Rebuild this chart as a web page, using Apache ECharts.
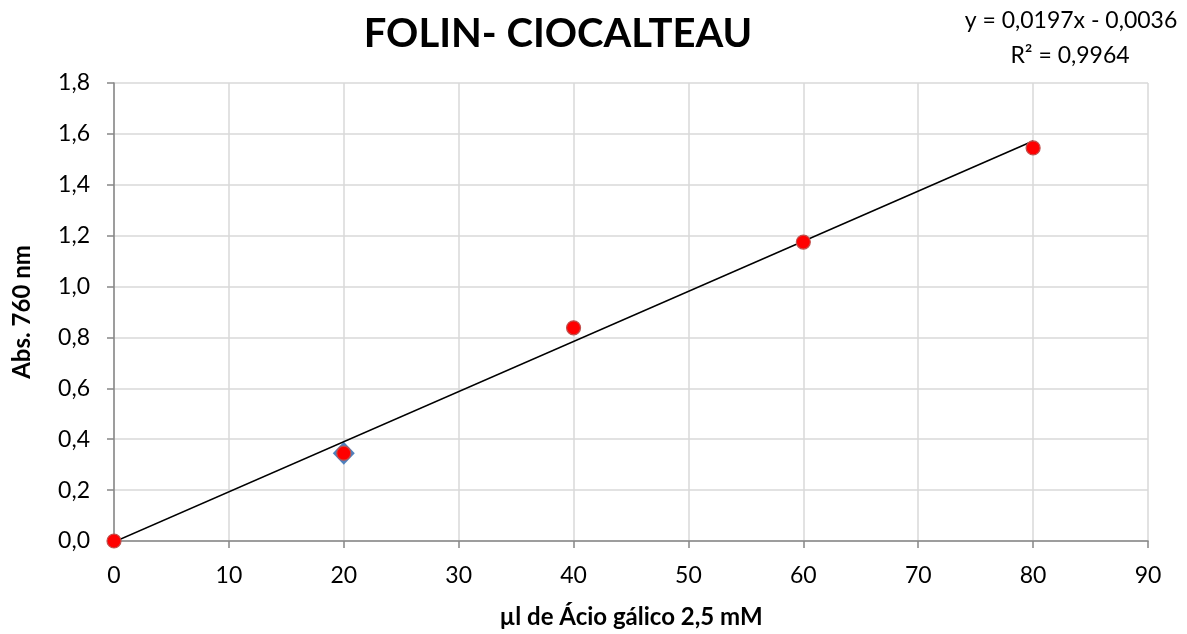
<!DOCTYPE html>
<html>
<head>
<meta charset="utf-8">
<script src="https://cdn.jsdelivr.net/npm/echarts@6/dist/echarts.min.js"></script>
<style>
  html, body { margin: 0; padding: 0; background: #fff; }
  #chart { width: 1187px; height: 634px; }
</style>
</head>
<body>
<div id="chart"></div>
<script>
// Gallic acid volume (µl) and measured absorbance at 760 nm
const volumes = [0, 20, 40, 60, 80];
const absorbance = [0, 0.345, 0.838, 1.175, 1.545];
// Point of the first series visible beneath the red marker
const diamondVolumes = [20];
const diamondAbs = [0.345];
// Linear fit reported on the chart
const slope = 0.0197;
const intercept = -0.0036;
const rSquared = 0.9964;
const fitRange = [0, 80];

const fmt = (v, d) => v.toFixed(d).replace('.', ',');
const fitLabel = 'y = ' + fmt(slope, 4) + 'x ' + (intercept < 0 ? '- ' : '+ ') + fmt(Math.abs(intercept), 4);
const r2Label = 'R² = ' + fmt(rSquared, 4);

const FONT = 'Lato, "Open Sans", sans-serif';
const chart = echarts.init(document.getElementById('chart'), null, { renderer: 'canvas' });

chart.setOption({
  backgroundColor: '#ffffff',
  animation: false,
  title: [
    {
      text: 'FOLIN- CIOCALTEAU',
      left: 553, top: 9, textAlign: 'center',
      textStyle: { fontFamily: FONT, fontWeight: 'bold', fontSize: 40, color: '#000' }
    }
  ],
  graphic: [
    {
      type: 'text', x: 1071, y: 9,
      style: { text: fitLabel, font: '23px ' + FONT, fill: '#000', textAlign: 'center' }
    },
    {
      type: 'text', x: 1070, y: 44,
      style: { text: r2Label, font: '23px ' + FONT, fill: '#000', textAlign: 'center' }
    }
  ],
  grid: { left: 114, right: 39, top: 83, bottom: 92 },
  xAxis: {
    type: 'value', min: 0, max: 90, interval: 10,
    name: 'µl de Ácio gálico 2,5 mM', nameLocation: 'middle', nameGap: 64,
    nameTextStyle: { fontFamily: FONT, fontWeight: 'bold', fontSize: 24, color: '#000' },
    axisLine: { show: true, onZero: false, lineStyle: { color: '#868686', width: 1.5 } },
    axisTick: { show: true, inside: false, length: 7, lineStyle: { color: '#868686', width: 1.5 } },
    axisLabel: { fontFamily: FONT, fontSize: 23, color: '#000', margin: 23 },
    splitLine: { show: true, lineStyle: { color: '#d9d9d9', width: 1.5 } }
  },
  yAxis: {
    type: 'value', min: 0, max: 1.8, interval: 0.2,
    name: 'Abs. 760 nm', nameLocation: 'middle', nameGap: 80, nameRotate: 90,
    nameTextStyle: { fontFamily: FONT, fontWeight: 'bold', fontSize: 24, color: '#000' },
    axisLine: { show: true, lineStyle: { color: '#868686', width: 1.5 } },
    axisTick: { show: true, inside: false, length: 7, lineStyle: { color: '#868686', width: 1.5 } },
    axisLabel: {
      fontFamily: FONT, fontSize: 23, color: '#000', margin: 24,
      formatter: v => fmt(v, 1)
    },
    splitLine: { show: true, lineStyle: { color: '#d9d9d9', width: 1.5 } }
  },
  series: [
    {
      name: 'fit', type: 'line', symbol: 'none', silent: true, z: 3,
      lineStyle: { color: '#000', width: 1.6 },
      data: fitRange.map(x => [x, slope * x + intercept])
    },
    {
      name: 'diamonds', type: 'scatter', symbol: 'diamond', symbolSize: [22, 23], z: 2,
      itemStyle: { color: '#4f81bd', opacity: 1 },
      data: diamondVolumes.map((x, i) => [x, diamondAbs[i]])
    },
    {
      name: 'Abs', type: 'scatter', symbol: 'circle', symbolSize: 14, z: 4,
      itemStyle: { color: '#ff0000', borderColor: '#c0504d', borderWidth: 1.2, opacity: 1 },
      data: volumes.map((x, i) => [x, absorbance[i]])
    }
  ]
});
</script>
</body>
</html>
